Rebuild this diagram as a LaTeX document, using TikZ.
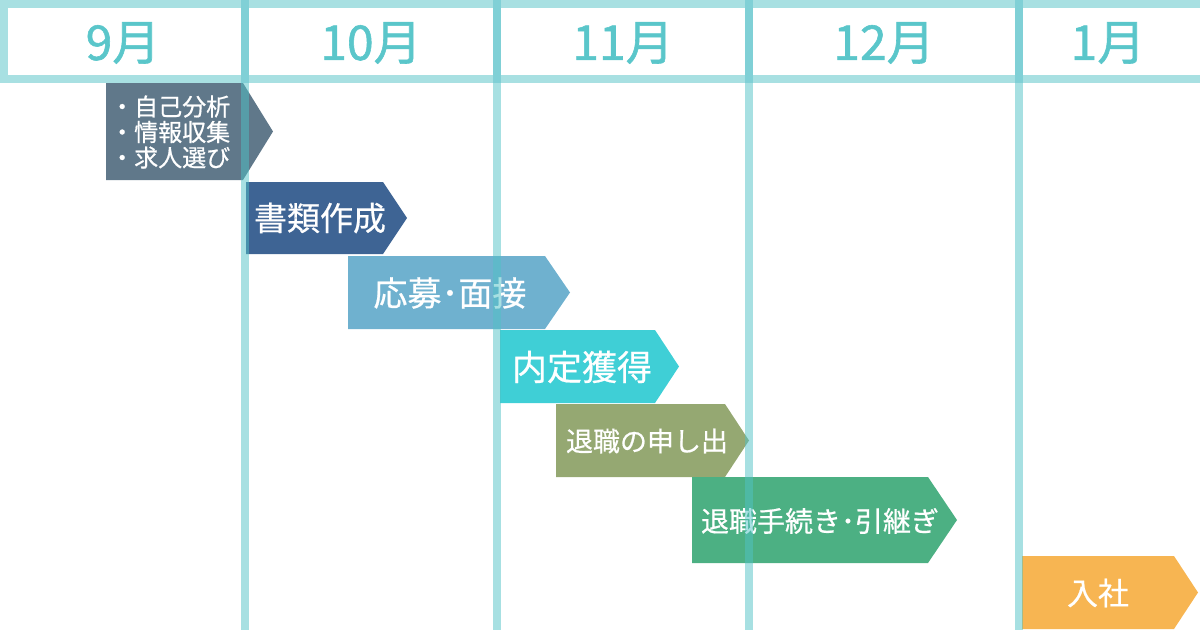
\documentclass[tikz,border=0pt]{standalone}
\usepackage{fontspec}
\setmainfont{Noto Sans CJK JP}[FakeBold=0.6]
\newfontfamily\monthfont{Noto Sans CJK JP}[FakeBold=1.2]
\usepackage{xcolor}

\definecolor{bandteal}{RGB}{168,224,226}
\definecolor{headteal}{RGB}{128,208,214}
\definecolor{lineteal}{RGB}{80,194,198}
\definecolor{monthteal}{RGB}{90,198,202}
\definecolor{slate}{RGB}{96,120,138}
\definecolor{docblue}{RGB}{62,100,148}
\definecolor{skyblue}{RGB}{111,177,207}
\definecolor{offercyan}{RGB}{63,207,214}
\definecolor{olive}{RGB}{149,168,114}
\definecolor{handgreen}{RGB}{76,176,131}
\definecolor{joinorange}{RGB}{247,181,82}

\begin{document}
\begin{tikzpicture}[x=1pt, y=-1pt,
    month/.style={monthteal, font=\monthfont\fontsize{48}{48}\selectfont, inner sep=0pt},
    task/.style={white, inner sep=0pt},
    gridline/.style={lineteal, opacity=0.5}]

    \useasboundingbox (0,0) rectangle (1200,630);

    % header frame
    \fill[bandteal] (0,0) rectangle (1200,8);
    \fill[bandteal] (0,75) rectangle (1200,83);
    \fill[bandteal] (0,0) rectangle (8,83);
    \foreach \x in {245,497,749,1019}
        \fill[headteal] (\x-4,0) rectangle (\x+4,83);

    \node[month] (sep) at (123,43) {9月};
    \node[month] (oct) at (371,43) {10月};
    \node[month] (nov) at (623,43) {11月};
    \node[month] (dec) at (884,43) {12月};
    \node[month] (jan) at (1108,43) {1月};

    % steps
    \fill[slate] (106,83) -- (243,83) -- (273,131.5) -- (243,180) -- (106,180) -- cycle;
    \node[task, anchor=west, align=left, font=\fontsize{24}{25.5}\selectfont] (prep) at (110,132)
        {・自己分析\\・情報収集\\・求人選び};

    \fill[docblue] (246,182) -- (383,182) -- (407,218) -- (383,254) -- (246,254) -- cycle;
    \node[task, font=\fontsize{33}{33}\selectfont] (docs) at (320,218) {書類作成};

    \fill[skyblue] (348,256) -- (545,256) -- (570,292.5) -- (545,329) -- (348,329) -- cycle;
    \node[task, font=\fontsize{34}{34}\selectfont] (apply) at (450,293) {応募･面接};

    \fill[offercyan] (500,330) -- (655,330) -- (679,366.5) -- (655,403) -- (500,403) -- cycle;
    \node[task, font=\fontsize{35}{35}\selectfont] (offer) at (582,367) {内定獲得};

    \fill[olive] (556,404) -- (725,404) -- (749,440.5) -- (725,477) -- (556,477) -- cycle;
    \node[task, font=\fontsize{27}{27}\selectfont] (notice) at (647,441) {退職の申し出};

    \fill[handgreen] (692,477) -- (928,477) -- (957,520) -- (928,563) -- (692,563) -- cycle;
    \node[task, font=\fontsize{28}{28}\selectfont] (handover) at (820,521) {退職手続き･引継ぎ};

    \fill[joinorange] (1022,556) -- (1174,556) -- (1198,592.5) -- (1174,629) -- (1022,629) -- cycle;
    \node[task, font=\fontsize{31}{31}\selectfont] (join) at (1098,593) {入社};

    % month lines
    \foreach \x in {245,497,749,1019}
        \fill[gridline] (\x-4,83) rectangle (\x+4,630);

\end{tikzpicture}
\end{document}
